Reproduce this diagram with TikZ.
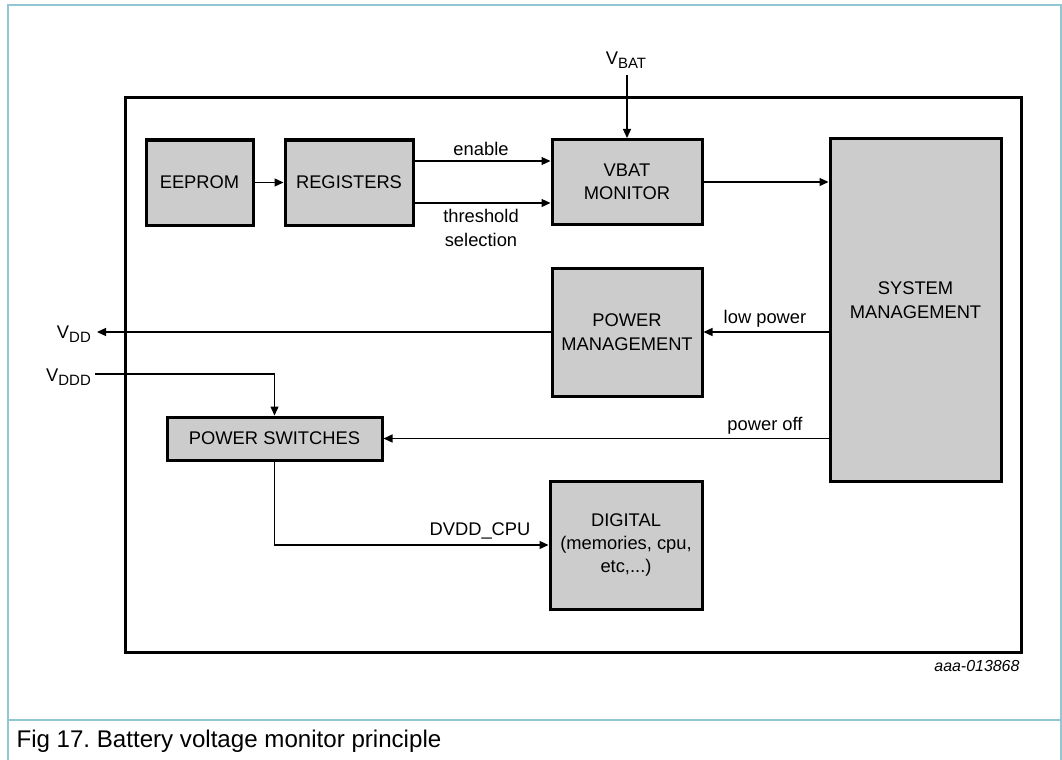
\documentclass[tikz,border=0pt]{standalone}
\usepackage{fontspec}
\setmainfont{Liberation Sans}
\usetikzlibrary{arrows.meta}
\definecolor{boxgray}{HTML}{CCCCCC}
\definecolor{framecol}{HTML}{92C6D0}
\newcommand{\lowsub}[1]{\raisebox{-4bp}{\fontsize{15}{15}\selectfont #1}}
\frenchspacing

\begin{document}
\begin{tikzpicture}[x=1bp, y=-1bp, font=\fontsize{18.4}{23.5}\selectfont,
    block/.style={draw, line width=3bp, fill=boxgray, align=center, inner sep=0pt},
    wire/.style={line width=1.3bp, -{Triangle[length=9bp, width=8bp]}}]
    \useasboundingbox (0,0) rectangle (1062,760);
    % page frame and caption
    \draw[framecol, line width=1.2bp] (8,760) -- (8,5) -- (1061,5) -- (1061,760);
    \draw[framecol, line width=1.2bp] (8,720) -- (1061,720);
    \node[anchor=west, font=\fontsize{24.2}{26}\selectfont] (caption) at (13,741) {Fig 17. Battery voltage monitor principle};
    \node[anchor=east, font=\fontsize{16}{18}\selectfont\itshape] (figid) at (1023,666) {aaa-013868};
    % chip outline
    \draw[line width=3bp] (125,97) rectangle (1021,652);
    % blocks
    \node[block, minimum width=107bp, minimum height=85bp] (eeprom) at (199.5,182.5) {EEPROM};
    \node[block, minimum width=128bp, minimum height=85bp] (registers) at (349,182.5) {REGISTERS};
    \node[block, minimum width=150bp, minimum height=85bp] (vbatmon) at (627,182) {VBAT\\MONITOR};
    \node[block, minimum width=171bp, minimum height=342bp] (sysman) at (915.5,310) {};
    \node[align=center] (sysmantext) at (915.5,300) {SYSTEM\\MANAGEMENT};
    \node[block, minimum width=150bp, minimum height=128bp] (powman) at (627,332) {POWER\\MANAGEMENT};
    \node[block, minimum width=215bp, minimum height=43bp] (powsw) at (274.5,438.5) {POWER SWITCHES};
    \node[block, minimum width=152bp, minimum height=128bp] (digital) at (626,545) {DIGITAL\\(memories, cpu,\\etc,...)};
    % pins
    \coordinate (vbat) at (627,75);
    \coordinate (vdd) at (97,332);
    \coordinate (vddd) at (95,374);
    \node[anchor=base] (vbatlbl) at (626,65) {V\lowsub{BAT}};
    \node[anchor=base east, inner sep=0pt] (vddlbl) at (91,338) {V\lowsub{DD}};
    \node[anchor=base east, inner sep=0pt] (vdddlbl) at (91,381) {V\lowsub{DDD}};
    % connections
    \draw[wire] (eeprom) -- (registers);
    \draw[wire] (registers.east |- 0,161) -- (vbatmon.west |- 0,161);
    \draw[wire] (registers.east |- 0,203) -- (vbatmon.west |- 0,203);
    \draw[wire] (vbat) -- (vbatmon);
    \draw[wire] (vbatmon) -- (vbatmon -| sysman.west);
    \draw[wire] (sysman.west |- powman) -- (powman);
    \draw[wire] (powman) -- (vdd);
    \draw[wire] (vddd) -| (powsw);
    \draw[wire] (sysman.west |- powsw) -- (powsw);
    \draw[wire] (powsw) |- (digital);
    % signal names
    \node (enable) at (481,149) {enable};
    \node[align=center] (threshold) at (481,228) {threshold\\selection};
    \node (lowpower) at (765,319) {low power};
    \node (poweroff) at (765,426) {power off};
    \node (dvddcpu) at (480,531) {DVDD\_CPU};
\end{tikzpicture}
\end{document}
